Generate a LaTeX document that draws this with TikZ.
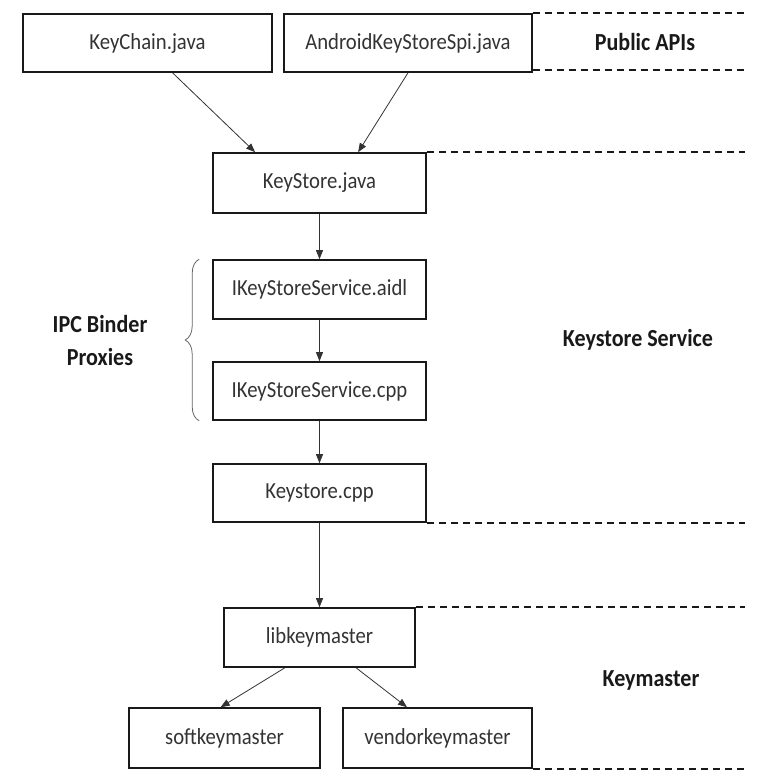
\documentclass[tikz,border=0pt]{standalone}
\usepackage{fontspec}
\setmainfont[FakeStretch=0.9]{Carlito}
\usetikzlibrary{arrows.meta,calc,decorations.pathreplacing}
\begin{document}
\begin{tikzpicture}[x=1pt,y=-1pt,
  box/.style={draw=black!90, line width=1.6pt, rectangle, inner sep=0pt,
    font=\fontsize{23}{27}\selectfont, text=black!80},
  arr/.style={-{Triangle[length=9pt,width=7pt]}, line width=0.8pt, draw=black!80},
  sepline/.style={dash pattern=on 7pt off 5pt, line width=1.8pt, draw=black!90},
  lbl/.style={font=\bfseries\fontsize{24.5}{33}\selectfont, align=center, text=black!90}]
\useasboundingbox (0,0) rectangle (763,782);
\coordinate (redge) at (745,0);
% boxes
\node[box, minimum width=249pt, minimum height=58pt] (kc)  at (147.5,43) {KeyChain.java};
\node[box, minimum width=248pt, minimum height=58pt] (aks) at (408,43) {AndroidKeyStoreSpi.java};
\node[box, minimum width=213pt, minimum height=60pt] (ks)  at (319.5,183) {KeyStore.java};
\node[box, minimum width=213pt, minimum height=59pt] (aidl) at (319.5,289.5) {IKeyStoreService.aidl};
\node[box, minimum width=213pt, minimum height=58pt] (cpp) at (319.5,391) {IKeyStoreService.cpp};
\node[box, minimum width=213pt, minimum height=58pt] (kscpp) at (319.5,493) {Keystore.cpp};
\node[box, minimum width=191pt, minimum height=59pt] (lib) at (319.5,637.5) {libkeymaster};
\node[box, minimum width=191pt, minimum height=60pt] (soft) at (224.5,738) {softkeymaster};
\node[box, minimum width=189pt, minimum height=60pt] (vend) at (437.5,738) {vendorkeymaster};
% labels
\node[lbl] (pub) at (645,42) {Public APIs};
\node[lbl] (kss) at (638,340) {Keystore Service};
\node[lbl] (kmr) at (651,680) {Keymaster};
\node[lbl] (ipc) at (100,340) {IPC Binder\\Proxies};
% arrows
\draw[arr] ($(kc.south west)!0.6!(kc.south east)$) -- ($(ks.north west)!0.2!(ks.north east)$);
\draw[arr] (aks.south) -- ($(ks.north west)!0.68!(ks.north east)$);
\draw[arr] (ks) -- (aidl);
\draw[arr] (aidl) -- (cpp);
\draw[arr] (cpp) -- (kscpp);
\draw[arr] (kscpp) -- (lib);
\draw[arr] ($(lib.south west)!0.32!(lib.south east)$) -- ($(soft.north west)!0.48!(soft.north east)$);
\draw[arr] ($(lib.south west)!0.69!(lib.south east)$) -- ($(vend.north west)!0.34!(vend.north east)$);
% dashed separators
\draw[sepline] (aks.north east) -- (aks.north east -| redge);
\draw[sepline] ([yshift=3pt]aks.south east) -- ([yshift=3pt]aks.south east -| redge);
\draw[sepline] (ks.north east) -- (ks.north east -| redge);
\draw[sepline] (kscpp.south east) -- (kscpp.south east -| redge);
\draw[sepline] (lib.north east) -- (lib.north east -| redge);
\draw[sepline] (vend.south east) -- (vend.south east -| redge);
% brace
\draw[draw=black!60, line width=0.8pt, decorate, decoration={brace, amplitude=14pt}]
  ([xshift=-13pt]cpp.south west) -- ([xshift=-13pt]aidl.north west);
\end{tikzpicture}
\end{document}
